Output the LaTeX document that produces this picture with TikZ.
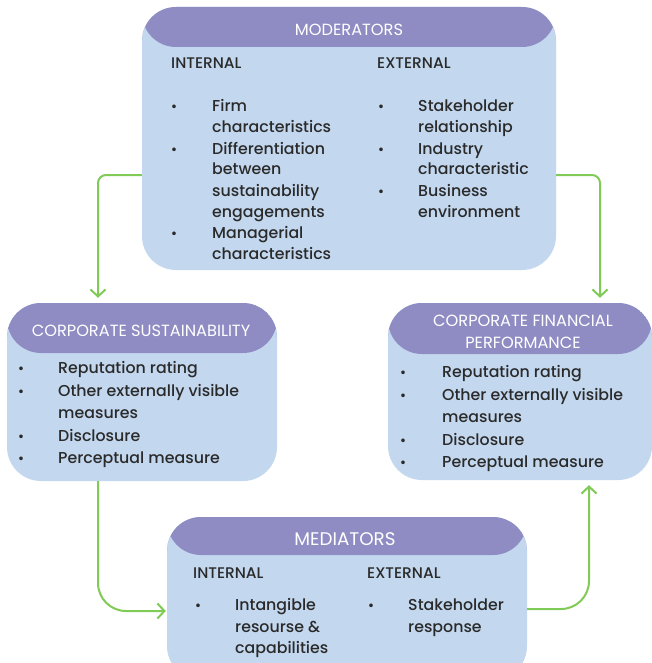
\documentclass[tikz,border=0pt]{standalone}
\usepackage{fontspec}
\setmainfont{Poppins Medium}
\newfontfamily\hfont{Poppins}
\usetikzlibrary{arrows.meta,calc}
\definecolor{hdr}{HTML}{8F8CC4}
\definecolor{bdy}{HTML}{C3D8EF}
\definecolor{grn}{HTML}{80CA56}
\definecolor{txt}{HTML}{2A2A2A}
\tikzset{
  box/.style={rectangle,rounded corners=34pt,fill=bdy,inner sep=0pt},
  hbox/.style={path picture={\fill[hdr] (path picture bounding box.north west) rectangle ([yshift=-#1]path picture bounding box.north east);}},
  ttl/.style={text=white,font=\hfont\fontsize{16.2}{19}\selectfont,inner sep=0pt},
  sub/.style={text=txt,font=\fontsize{15.4}{18}\selectfont,inner sep=0pt,anchor=base west},
  itm/.style={text=txt,font=\fontsize{15.8}{18}\selectfont,inner sep=0pt,anchor=base west},
  bul/.style={text=txt,font=\fontsize{14}{17}\selectfont,inner sep=0pt,anchor=base},
  flow/.style={draw=grn,line width=2pt,-{Straight Barb[length=7pt,width=15pt,line width=2pt]}},
}
\begin{document}
\begin{tikzpicture}[x=1pt,y=-1pt]
\useasboundingbox (0,0) rectangle (652,663);
\clip (0,0) rectangle (652,663);
% boxes
\node[box,hbox=40pt,minimum width=414pt,minimum height=263pt] (mod) at (349,138.5) {};
\node[box,hbox=50pt,minimum width=270pt,minimum height=178pt] (cs) at (142,392) {};
\node[box,hbox=51pt,minimum width=264pt,minimum height=177pt] (cfp) at (520,391.5) {};
\node[box,hbox=38pt,minimum width=360pt,minimum height=163pt] (med) at (347,598.5) {};
% moderators
\node[ttl,anchor=base] (modt) at (349,36) {MODERATORS};
\node[sub] (modi) at (171,68.5) {INTERNAL};
\node[sub] (mode) at (377,68.5) {EXTERNAL};
\node[bul] (mb1) at (174,112) {•};
\node[bul] (mb2) at (174,154) {•};
\node[bul] (mb3) at (174,238) {•};
\node[itm] (mi1) at (212,112) {Firm};
\node[itm] (mi2) at (212,133) {characteristics};
\node[itm] (mi3) at (212,154) {Differentiation};
\node[itm] (mi4) at (212,175) {between};
\node[itm] (mi5) at (212,196) {sustainability};
\node[itm] (mi6) at (212,217) {engagements};
\node[itm] (mi7) at (212,238) {Managerial};
\node[itm] (mi8) at (212,259) {characteristics};
\node[bul] (me1) at (381,112) {•};
\node[bul] (me2) at (381,154) {•};
\node[bul] (me3) at (381,196) {•};
\node[itm] (mx1) at (418,112) {Stakeholder};
\node[itm] (mx2) at (418,133) {relationship};
\node[itm] (mx3) at (418,154) {Industry};
\node[itm] (mx4) at (418,175) {characteristic};
\node[itm] (mx5) at (418,196) {Business};
\node[itm] (mx6) at (418,217) {environment};
% corporate sustainability
\node[ttl,anchor=base] (cst) at (141,336) {CORPORATE SUSTAINABILITY};
\node[bul] (cb1) at (21,373) {•};
\node[bul] (cb2) at (21,396) {•};
\node[bul] (cb3) at (21,441) {•};
\node[bul] (cb4) at (21,463) {•};
\node[itm] (ci1) at (58,373) {Reputation rating};
\node[itm] (ci2) at (58,396) {Other externally visible};
\node[itm] (ci3) at (58,418) {measures};
\node[itm] (ci4) at (58,441) {Disclosure};
\node[itm] (ci5) at (58,463) {Perceptual measure};
% corporate financial performance
\node[ttl,anchor=base] (cft1) at (523,326) {CORPORATE FINANCIAL};
\node[ttl,anchor=base] (cft2) at (523,348) {PERFORMANCE};
\node[bul] (fb1) at (403,377) {•};
\node[bul] (fb2) at (403,400) {•};
\node[bul] (fb3) at (403,445) {•};
\node[bul] (fb4) at (403,467) {•};
\node[itm] (fi1) at (442,377) {Reputation rating};
\node[itm] (fi2) at (442,400) {Other externally visible};
\node[itm] (fi3) at (442,422) {measures};
\node[itm] (fi4) at (442,445) {Disclosure};
\node[itm] (fi5) at (442,467) {Perceptual measure};
% mediators
\node[ttl,anchor=base,font=\hfont\fontsize{18.3}{21}\selectfont] (medt) at (345,545) {MEDIATORS};
\node[sub] (medi) at (193,578) {INTERNAL};
\node[sub] (mede) at (367,578) {EXTERNAL};
\node[bul] (db1) at (198,610) {•};
\node[itm] (di1) at (235,610) {Intangible};
\node[itm] (di2) at (235,632) {resourse \&};
\node[itm] (di3) at (235,653) {capabilities};
\node[bul] (db2) at (371,610) {•};
\node[itm] (de1) at (408,610) {Stakeholder};
\node[itm] (de2) at (408,632) {response};
% connectors
\draw[flow,rounded corners=8pt] ([yshift=-36.5pt]mod.west) -| ([xshift=-44pt,yshift=5pt]cs.north);
\draw[flow,rounded corners=8pt] ([yshift=-36.5pt]mod.east) -| ([xshift=80pt,yshift=5pt]cfp.north);
\draw[flow,rounded corners=28pt] ([xshift=-44pt]cs.south) |- ([xshift=-1pt,yshift=-12.5pt]med.west);
\draw[flow,rounded corners=28pt] ([yshift=-10.5pt]med.east) -| ([xshift=69pt,yshift=-5pt]cfp.south);
\end{tikzpicture}
\end{document}
